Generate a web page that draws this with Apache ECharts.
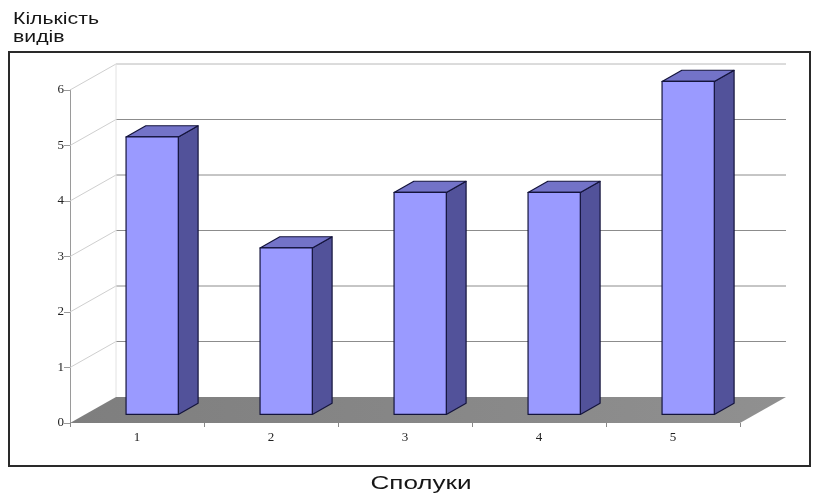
<!DOCTYPE html>
<html>
<head>
<meta charset="utf-8">
<script src="https://cdn.jsdelivr.net/npm/echarts@6/dist/echarts.min.js"></script>
<style>
  html, body { margin: 0; padding: 0; background: #ffffff; }
  #chart { width: 816px; height: 494px; }
</style>
</head>
<body>
<div id="chart"></div>
<script>
// Compounds (categories) and number of species for each
const categories = ['1', '2', '3', '4', '5'];
const speciesCount = [5, 3, 4, 4, 6];
const yTickValues = [0, 1, 2, 3, 4, 5, 6];
const yAxisTitleLines = ['Кількість', 'видів'];
const xAxisTitle = 'Сполуки';

// Depth vector of the pseudo-3D box (pixels from front plane to back wall)
const DEPTH_X = 46;
const DEPTH_Y = -26;
// Bars sit inside the depth between these fractions
const BAR_FRONT = 0.33;
const BAR_BACK = 0.76;
const BAR_WIDTH = 0.39;

const SANS = 'Liberation Sans, Arial, sans-serif';
const SERIF = 'Liberation Serif, Times New Roman, serif';

const chart = echarts.init(document.getElementById('chart'), null, { renderer: 'canvas' });

function wallsItem(params, api) {
  const band = api.size([1, 0])[0];
  const c0 = api.coord([0, 0]);
  const cN = api.coord([categories.length - 1, 0]);
  const xL = c0[0] - band / 2;
  const xR = cN[0] + band / 2;
  const yB = c0[1];
  const children = [];
  // floor
  children.push({
    type: 'polygon',
    shape: { points: [[xL, yB], [xR, yB], [xR + DEPTH_X, yB + DEPTH_Y], [xL + DEPTH_X, yB + DEPTH_Y]] },
    style: {
      fill: new echarts.graphic.LinearGradient(0, 0, 1, 0, [
        { offset: 0, color: '#7e7e7e' },
        { offset: 1, color: '#909090' }
      ]),
      stroke: null
    }
  });
  yTickValues.forEach(function (v) {
    const yv = api.coord([0, v])[1];
    if (v > 0) {
      // back wall gridline
      children.push({
        type: 'line',
        shape: { x1: xL + DEPTH_X, y1: yv + DEPTH_Y, x2: xR + DEPTH_X, y2: yv + DEPTH_Y },
        style: { stroke: v === yTickValues[yTickValues.length - 1] ? '#b8b8b8' : '#8c8c8c', lineWidth: 1 }
      });
      // side wall gridline
      children.push({
        type: 'line',
        shape: { x1: xL, y1: yv, x2: xL + DEPTH_X, y2: yv + DEPTH_Y },
        style: { stroke: '#cfcfcf', lineWidth: 1 }
      });
    }
  });
  // back-left wall edge
  const yTop = api.coord([0, yTickValues[yTickValues.length - 1]])[1];
  children.push({
    type: 'line',
    shape: { x1: xL + DEPTH_X, y1: yB + DEPTH_Y, x2: xL + DEPTH_X, y2: yTop + DEPTH_Y },
    style: { stroke: '#e2e2e2', lineWidth: 1 }
  });
  return { type: 'group', children: children };
}

function barItem(params, api) {
  const idx = api.value(0);
  const top = api.coord([idx, api.value(1)]);
  const base = api.coord([idx, 0]);
  const band = api.size([1, 0])[0];
  const w = band * BAR_WIDTH;
  const x0 = top[0] + BAR_FRONT * DEPTH_X - w / 2;
  const x1 = x0 + w;
  const yT = top[1] + BAR_FRONT * DEPTH_Y;
  const yBt = base[1] + BAR_FRONT * DEPTH_Y;
  const dx = (BAR_BACK - BAR_FRONT) * DEPTH_X;
  const dy = (BAR_BACK - BAR_FRONT) * DEPTH_Y;
  const edge = { stroke: '#14143c', lineWidth: 1.2, lineJoin: 'round' };
  return {
    type: 'group',
    children: [
      {
        type: 'polygon',
        shape: { points: [[x1, yBt], [x1 + dx, yBt + dy], [x1 + dx, yT + dy], [x1, yT]] },
        style: Object.assign({ fill: '#52529a' }, edge)
      },
      {
        type: 'polygon',
        shape: { points: [[x0, yT], [x1, yT], [x1 + dx, yT + dy], [x0 + dx, yT + dy]] },
        style: Object.assign({ fill: '#7373c8' }, edge)
      },
      {
        type: 'rect',
        shape: { x: x0, y: yT, width: w, height: yBt - yT },
        style: Object.assign({ fill: '#9a9aff' }, edge)
      }
    ]
  };
}

const option = {
  animation: false,
  backgroundColor: '#ffffff',
  graphic: [
    // axis titles, drawn slightly widened
    {
      type: 'text', x: 13, y: 19, scaleX: 1.25,
      style: { text: yAxisTitleLines[0], font: 'normal 17px ' + SANS, fill: '#161616', textAlign: 'left', textVerticalAlign: 'middle' }
    },
    {
      type: 'text', x: 13, y: 37, scaleX: 1.25,
      style: { text: yAxisTitleLines[1], font: 'normal 17px ' + SANS, fill: '#161616', textAlign: 'left', textVerticalAlign: 'middle' }
    },
    {
      type: 'text', x: 421, y: 484, scaleX: 1.45,
      style: { text: xAxisTitle, font: 'normal 18px ' + SANS, fill: '#161616', textAlign: 'center', textVerticalAlign: 'middle' }
    },
    // chart frame
    {
      type: 'rect',
      shape: { x: 9, y: 52, width: 801, height: 414 },
      style: { fill: null, stroke: '#2a2a2a', lineWidth: 2 },
      z: 10
    }
  ],
  grid: { left: 70, right: 76, top: 90, bottom: 71, containLabel: false },
  xAxis: {
    type: 'category',
    data: categories,
    boundaryGap: true,
    axisLine: { show: false },
    axisTick: { show: true, alignWithLabel: false, length: 4, lineStyle: { color: '#888888' } },
    axisLabel: { fontFamily: SERIF, fontSize: 13, color: '#222222', margin: 8 },
    splitLine: { show: false }
  },
  yAxis: {
    type: 'value',
    min: 0, max: 6, interval: 1,
    axisLine: { show: true, lineStyle: { color: '#9a9a9a', width: 1 } },
    axisTick: { show: true, length: 6, lineStyle: { color: '#9a9a9a' } },
    axisLabel: { fontFamily: SERIF, fontSize: 13, color: '#222222', margin: 6 },
    splitLine: { show: false }
  },
  series: [
    {
      type: 'custom',
      name: 'walls',
      renderItem: wallsItem,
      data: [[0, 0]],
      clip: false,
      silent: true,
      z: 1
    },
    {
      type: 'custom',
      name: 'Кількість видів',
      renderItem: barItem,
      data: speciesCount.map(function (v, i) { return [i, v]; }),
      encode: { x: 0, y: 1 },
      clip: false,
      z: 3
    }
  ]
};

chart.setOption(option);
</script>
</body>
</html>
